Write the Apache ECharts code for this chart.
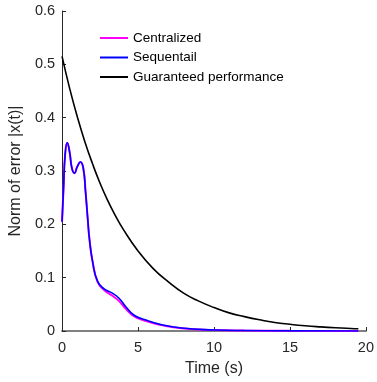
<!DOCTYPE html>
<html>
<head>
<meta charset="utf-8">
<script src="https://cdn.jsdelivr.net/npm/echarts@6/dist/echarts.min.js"></script>
<style>
  html, body { margin: 0; padding: 0; background: #fff; }
  #chart { width: 377px; height: 382px; }
</style>
</head>
<body>
<div id="chart"></div>
<script>
// values
const tResp = [0, 0.1, 0.2, 0.34, 0.5, 0.65, 0.82, 1.0, 1.21, 1.4, 1.55, 1.69, 1.8, 2.01, 2.34, 2.77, 3.31, 3.75, 4.18, 4.72, 5.47, 6.56, 7.86, 10, 12, 15, 19.5];
const centralized = [0.205, 0.27, 0.33, 0.353, 0.335, 0.305, 0.296, 0.308, 0.317, 0.305, 0.26, 0.21, 0.173, 0.13, 0.092, 0.077, 0.066, 0.056, 0.042, 0.028, 0.019, 0.011, 0.005, 0.0018, 0.0008, 0.0003, 0.0001];
const sequential = [0.205, 0.27, 0.33, 0.353, 0.335, 0.305, 0.296, 0.308, 0.317, 0.305, 0.26, 0.21, 0.173, 0.13, 0.093, 0.079, 0.071, 0.0615, 0.046, 0.030, 0.021, 0.0117, 0.0056, 0.002, 0.0008, 0.0003, 0.0001];

const tGuar = [0, 0.5, 1, 1.5, 2, 2.5, 3, 3.5, 4, 5, 6, 7, 8, 9, 10, 11, 12, 13, 14, 15, 16, 17, 18, 19, 19.5];
const guaranteed = [0.515, 0.455, 0.402, 0.355, 0.314, 0.277, 0.245, 0.217, 0.192, 0.15, 0.117, 0.092, 0.071, 0.056, 0.044, 0.034, 0.027, 0.021, 0.016, 0.0126, 0.0098, 0.0077, 0.006, 0.0047, 0.0042];

const seriesNames = ["Centralized", "Sequentail", "Guaranteed performance"];
const seriesColors = ["#ff00ff", "#0000ff", "#000000"];

const font = "Liberation Sans, Arial, Helvetica, sans-serif";
const textColor = "#262626";

function pairs(xs, ys) {
  return xs.map((x, i) => [x, ys[i]]);
}

const chart = echarts.init(document.getElementById("chart"));

chart.setOption({
  animation: false,
  backgroundColor: "#fff",
  grid: {
    left: 59,
    right: 10,
    top: 11,
    bottom: 49,
  },
  legend: {
    orient: "vertical",
    left: 100,
    top: 31,
    padding: 0,
    icon: "rect",
    itemWidth: 28,
    itemHeight: 2,
    itemGap: 5.5,
    data: seriesNames,
    textStyle: {
      fontFamily: font,
      fontSize: 13.5,
      color: "#000",
    },
  },
  xAxis: {
    type: "value",
    min: 0,
    max: 20,
    interval: 5,
    name: "Time (s)",
    nameLocation: "middle",
    nameGap: 30,
    nameTextStyle: {
      fontFamily: font,
      fontSize: 16,
      color: textColor,
    },
    splitLine: { show: false },
    axisLine: {
      show: true,
      onZero: false,
      lineStyle: { color: "#808080", width: 2 },
    },
    axisTick: {
      show: true,
      inside: true,
      length: 4,
      lineStyle: { color: textColor },
    },
    axisLabel: {
      margin: 9,
      fontFamily: font,
      fontSize: 14.5,
      color: textColor,
    },
  },
  yAxis: {
    type: "value",
    min: 0,
    max: 0.6,
    interval: 0.1,
    name: "Norm of error |x(t)|",
    nameLocation: "middle",
    nameGap: 32,
    nameTextStyle: {
      fontFamily: font,
      fontSize: 16,
      color: textColor,
    },
    splitLine: { show: false },
    axisLine: {
      show: true,
      lineStyle: { color: textColor, width: 1 },
    },
    axisTick: {
      show: true,
      inside: true,
      length: 4,
      lineStyle: { color: textColor },
    },
    axisLabel: {
      margin: 7,
      fontFamily: font,
      fontSize: 14.5,
      color: textColor,
      formatter: (v) => (v === 0 ? "0" : v.toFixed(1)),
    },
  },
  series: [
    {
      name: seriesNames[0],
      type: "line",
      data: pairs(tResp, centralized),
      smooth: true,
      showSymbol: false,
      lineStyle: { color: seriesColors[0], width: 2 },
      itemStyle: { color: seriesColors[0] },
    },
    {
      name: seriesNames[1],
      type: "line",
      data: pairs(tResp, sequential),
      smooth: true,
      showSymbol: false,
      lineStyle: { color: seriesColors[1], width: 1.6 },
      itemStyle: { color: seriesColors[1] },
    },
    {
      name: seriesNames[2],
      type: "line",
      data: pairs(tGuar, guaranteed),
      smooth: true,
      showSymbol: false,
      lineStyle: { color: seriesColors[2], width: 1.6 },
      itemStyle: { color: seriesColors[2] },
    },
  ],
});
</script>
</body>
</html>
